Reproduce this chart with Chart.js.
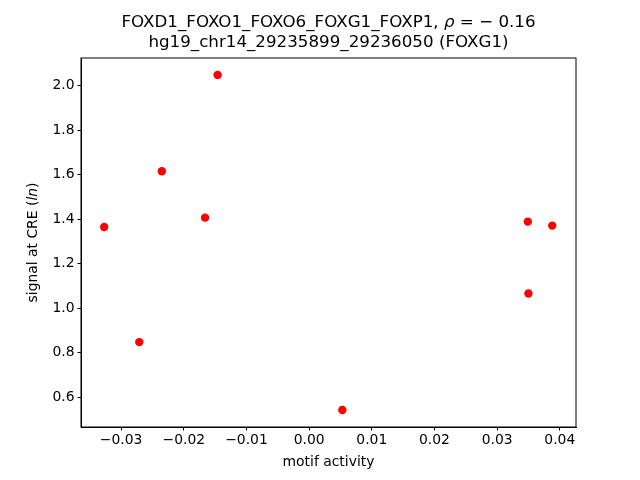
<!DOCTYPE html>
<html>
<head>
<meta charset="utf-8">
<script src="https://cdn.jsdelivr.net/npm/chart.js@4"></script>
<style>
  html, body { margin: 0; padding: 0; background: #fff; }
  #wrap { width: 640px; height: 480px; }
</style>
</head>
<body>
<div id="wrap"><canvas id="grafica" width="640" height="480"></canvas></div>
<script>
// valores
const motifActivity = [-0.0327, -0.0271, -0.0235, -0.0166, -0.0146, 0.0053, 0.0349, 0.0350, 0.0388];
const signalCRE    = [1.365, 0.848, 1.615, 1.407, 2.048, 0.543, 1.389, 1.066, 1.371];
const xTicks = [-0.03, -0.02, -0.01, 0.00, 0.01, 0.02, 0.03, 0.04];
const yTicks = [0.6, 0.8, 1.0, 1.2, 1.4, 1.6, 1.8, 2.0];
const titleLine1 = 'FOXD1_FOXO1_FOXO6_FOXG1_FOXP1, ';
const titleRho = 'ρ = − 0.16';
const titleLine2 = 'hg19_chr14_29235899_29236050 (FOXG1)';
const xLabel = 'motif activity';

const FONT = '"DejaVu Sans", sans-serif';
const TITLE_PX = 16.7;
const LABEL_PX = 13.9;

const puntos = motifActivity.map((x, i) => ({ x: x, y: signalCRE[i] }));

// textos y marco (estilo matplotlib)
const textos = {
    id: 'textos',
    afterDraw(chart) {
        const c = chart.ctx;
        const a = chart.chartArea;
        const cx = (a.left + a.right) / 2;
        c.save();
        c.strokeStyle = '#000';
        c.lineWidth = 1;
        c.strokeRect(a.left, a.top, a.right - a.left, a.bottom - a.top);
        c.fillStyle = '#000';
        c.textBaseline = 'middle';

        // título, línea 1 con rho en cursiva
        const fN = TITLE_PX + 'px ' + FONT, fI = 'italic ' + TITLE_PX + 'px ' + FONT;
        c.font = fN;
        const w1 = c.measureText(titleLine1).width;
        const rest = titleRho.slice(1);
        const w3 = c.measureText(rest).width;
        c.font = fI;
        const wr = c.measureText('ρ').width;
        let x0 = cx - (w1 + wr + w3) / 2;
        c.textAlign = 'left';
        c.font = fN;
        c.fillText(titleLine1, x0, 23);
        c.font = fI;
        c.fillText('ρ', x0 + w1, 23);
        c.font = fN;
        c.fillText(rest, x0 + w1 + wr, 23);
        c.textAlign = 'center';
        c.fillText(titleLine2, cx, 43);

        // eje x
        const lN = LABEL_PX + 'px ' + FONT, lI = 'italic ' + LABEL_PX + 'px ' + FONT;
        c.font = lN;
        c.fillText(xLabel, cx, 462);

        // eje y con "ln" en cursiva
        c.translate(33, (a.top + a.bottom) / 2);
        c.rotate(-Math.PI / 2);
        const p1 = 'signal at CRE (', p2 = 'ln', p3 = ')';
        c.font = lN;
        const a1 = c.measureText(p1).width, a3 = c.measureText(p3).width;
        c.font = lI;
        const a2 = c.measureText(p2).width;
        let s = -(a1 + a2 + a3) / 2;
        c.textAlign = 'left';
        c.font = lN;
        c.fillText(p1, s, 0);
        c.font = lI;
        c.fillText(p2, s + a1, 0);
        c.font = lN;
        c.fillText(p3, s + a1 + a2, 0);
        c.restore();
    }
};

const ctx = document.getElementById('grafica').getContext('2d');
const chartCRE = new Chart(ctx, {
    type: 'scatter',
    data: {
        datasets: [{
            data: puntos,
            backgroundColor: '#ff0000',
            borderColor: '#ff0000',
            borderWidth: 0,
            pointRadius: 4.2,
            pointHoverRadius: 4.2
        }]
    },
    options: {
        responsive: false,
        animation: false,
        layout: { padding: { left: 0, right: 64, top: 58, bottom: 0 } },
        plugins: { legend: { display: false }, tooltip: { enabled: false }, title: { display: false } },
        scales: {
            x: {
                type: 'linear',
                min: -0.0364,
                max: 0.04259,
                afterBuildTicks: (scale) => { scale.ticks = xTicks.map(v => ({ value: v })); },
                afterFit: (scale) => { scale.height = 53; },
                grid: { drawOnChartArea: false, drawTicks: true, tickLength: 3.5, color: '#000' },
                border: { display: true, color: '#000' },
                ticks: {
                    color: '#000',
                    font: { family: FONT, size: LABEL_PX },
                    padding: 2,
                    maxRotation: 0,
                    autoSkip: false,
                    callback: (v) => v.toFixed(2).replace('-', '−')
                }
            },
            y: {
                type: 'linear',
                min: 0.4666,
                max: 2.124,
                afterBuildTicks: (scale) => { scale.ticks = yTicks.map(v => ({ value: v })); },
                afterFit: (scale) => { scale.width = 81; },
                grid: { drawOnChartArea: false, drawTicks: true, tickLength: 3.5, color: '#000' },
                border: { display: true, color: '#000' },
                ticks: {
                    color: '#000',
                    font: { family: FONT, size: LABEL_PX },
                    padding: 3,
                    autoSkip: false,
                    callback: (v) => v.toFixed(1)
                }
            }
        }
    },
    plugins: [textos]
});
</script>
</body>
</html>
